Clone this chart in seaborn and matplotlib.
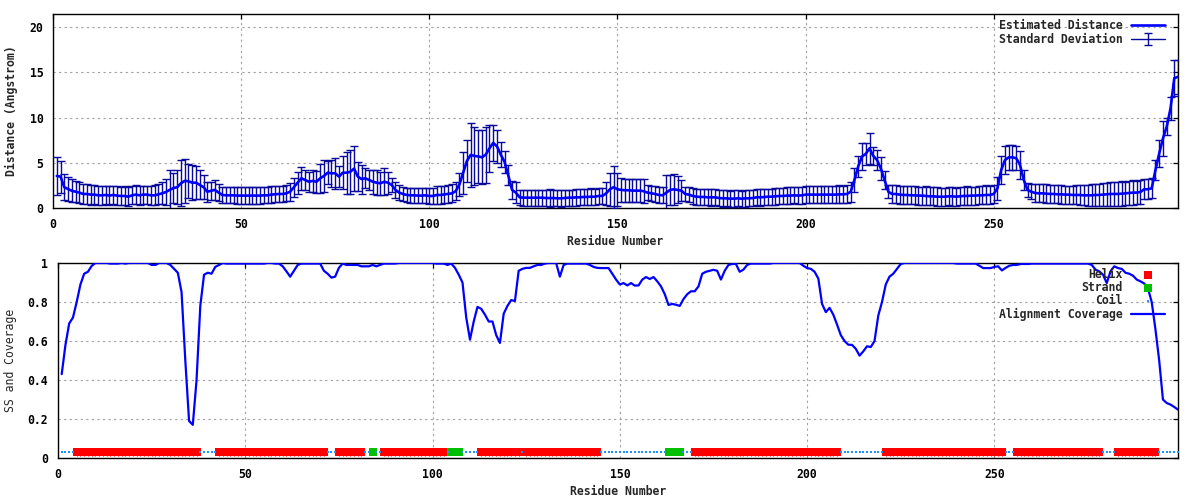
import pandas as pd
import seaborn as sns
import matplotlib.pyplot as plt

# Residue numbers of the model
residues = list(range(1, 300))

# Estimated distance per residue (Angstrom)
distance = [
    3.54, 3.47, 2.29, 2.10, 1.90, 1.80, 1.70, 1.55, 1.55, 1.48,
    1.48, 1.40, 1.40, 1.44, 1.37, 1.44, 1.37, 1.33, 1.33, 1.25,
    1.40, 1.48, 1.40, 1.48, 1.48, 1.40, 1.40, 1.51, 1.62, 1.77,
    2.00, 2.20, 2.30, 2.73, 3.00, 2.95, 2.80, 2.80, 2.55, 2.30,
    1.80, 1.90, 2.00, 1.70, 1.44, 1.40, 1.40, 1.40, 1.37, 1.37,
    1.37, 1.37, 1.37, 1.37, 1.37, 1.40, 1.40, 1.48, 1.51, 1.55,
    1.55, 1.62, 1.80, 2.29, 2.80, 3.28, 3.10, 2.90, 3.00, 2.90,
    3.28, 3.54, 3.90, 3.84, 3.84, 3.47, 3.90, 3.90, 4.00, 4.35,
    3.47, 3.20, 3.28, 3.10, 2.90, 2.80, 2.73, 2.90, 2.80, 2.55,
    2.00, 1.70, 1.55, 1.44, 1.40, 1.40, 1.37, 1.37, 1.40, 1.33,
    1.33, 1.44, 1.44, 1.50, 1.55, 1.62, 1.85, 2.60, 3.90, 5.20,
    5.87, 5.75, 5.70, 5.60, 5.90, 6.60, 7.20, 6.80, 5.90, 5.10,
    3.60, 2.00, 1.70, 1.18, 1.14, 1.14, 1.14, 1.14, 1.14, 1.14,
    1.10, 1.10, 1.10, 1.07, 1.07, 1.10, 1.14, 1.14, 1.18, 1.18,
    1.22, 1.22, 1.25, 1.25, 1.33, 1.33, 1.62, 2.07, 2.30, 2.07,
    2.00, 1.96, 1.96, 1.92, 1.92, 1.92, 1.85, 1.70, 1.62, 1.55,
    1.44, 1.40, 1.70, 2.00, 2.07, 2.00, 1.92, 1.55, 1.48, 1.33,
    1.25, 1.22, 1.22, 1.18, 1.18, 1.18, 1.10, 1.07, 1.07, 1.03,
    1.03, 1.07, 1.03, 1.07, 1.07, 1.10, 1.18, 1.18, 1.22, 1.25,
    1.25, 1.29, 1.33, 1.33, 1.37, 1.37, 1.40, 1.37, 1.40, 1.48,
    1.48, 1.48, 1.48, 1.48, 1.48, 1.48, 1.48, 1.48, 1.51, 1.51,
    1.55, 1.80, 3.10, 4.60, 5.68, 5.98, 6.60, 5.76, 5.30, 4.39,
    3.10, 1.80, 1.55, 1.55, 1.48, 1.44, 1.44, 1.40, 1.40, 1.37,
    1.37, 1.33, 1.29, 1.29, 1.25, 1.25, 1.25, 1.29, 1.29, 1.25,
    1.29, 1.33, 1.33, 1.37, 1.37, 1.40, 1.40, 1.44, 1.44, 1.55,
    2.18, 4.20, 5.30, 5.60, 5.60, 5.50, 4.76, 3.10, 2.00, 1.80,
    1.66, 1.62, 1.62, 1.58, 1.55, 1.55, 1.51, 1.51, 1.48, 1.48,
    1.44, 1.44, 1.44, 1.40, 1.40, 1.40, 1.44, 1.44, 1.48, 1.51,
    1.55, 1.55, 1.55, 1.58, 1.62, 1.66, 1.70, 1.70, 1.77, 2.07,
    2.07, 2.18, 4.20, 6.05, 7.70, 9.00, 11.0, 14.35, 14.5,
]

# Standard deviation per residue
std_dev = [
    2.06, 1.77, 1.44, 1.30, 1.25, 1.15, 1.15, 1.10, 1.10, 1.10,
    1.05, 1.05, 1.05, 1.00, 1.05, 1.00, 1.05, 1.00, 1.05, 1.05,
    1.00, 1.05, 1.05, 1.00, 1.00, 1.05, 1.10, 1.10, 1.20, 1.40,
    2.20, 1.70, 1.90, 2.55, 2.40, 1.90, 1.90, 1.85, 1.60, 1.30,
    1.10, 1.00, 1.10, 0.95, 0.90, 0.90, 0.90, 0.90, 0.90, 0.90,
    0.90, 0.90, 0.90, 0.90, 0.90, 0.90, 0.90, 0.95, 0.90, 0.90,
    0.90, 0.90, 1.00, 1.05, 1.20, 1.30, 1.10, 1.10, 1.20, 1.20,
    1.60, 1.80, 1.30, 1.50, 1.70, 1.20, 1.80, 2.30, 2.40, 2.50,
    1.60, 1.60, 1.10, 1.10, 1.30, 1.40, 1.30, 1.50, 1.20, 0.80,
    0.90, 0.80, 0.80, 0.80, 0.80, 0.80, 0.80, 0.80, 0.85, 0.92,
    0.92, 0.95, 0.95, 0.95, 1.00, 1.00, 1.00, 1.30, 2.30, 2.30,
    3.50, 3.20, 2.90, 3.00, 3.10, 2.60, 2.00, 1.80, 1.40, 1.20,
    1.10, 1.00, 1.20, 0.80, 0.90, 0.90, 0.90, 0.90, 0.90, 0.90,
    0.90, 0.95, 0.90, 0.90, 0.95, 0.90, 0.90, 0.90, 0.95, 0.90,
    0.90, 0.90, 0.95, 0.90, 0.90, 0.90, 1.30, 1.80, 2.30, 1.80,
    1.30, 1.30, 1.30, 1.30, 1.30, 1.30, 1.30, 0.80, 0.85, 0.85,
    0.90, 0.90, 2.00, 1.70, 1.70, 1.50, 1.20, 0.80, 0.85, 0.90,
    0.90, 0.90, 0.90, 0.90, 0.95, 0.90, 0.90, 0.95, 0.90, 0.90,
    0.95, 0.90, 0.90, 0.95, 0.90, 0.90, 0.90, 0.95, 0.90, 0.90,
    0.90, 0.95, 0.90, 0.90, 0.95, 0.90, 0.90, 0.95, 0.95, 0.95,
    0.95, 0.95, 0.95, 0.95, 0.95, 0.95, 0.95, 0.95, 1.00, 0.95,
    1.00, 1.10, 1.30, 1.20, 1.50, 1.20, 1.70, 1.00, 1.10, 1.30,
    1.00, 0.70, 1.00, 1.00, 1.00, 1.00, 1.00, 1.00, 1.00, 1.00,
    1.00, 1.05, 1.00, 1.00, 1.05, 1.00, 1.00, 1.00, 1.05, 1.00,
    1.00, 1.00, 1.05, 1.00, 1.00, 1.00, 1.00, 1.05, 1.00, 1.00,
    1.30, 1.50, 1.50, 1.40, 1.40, 1.30, 1.50, 1.10, 0.75, 0.85,
    1.00, 1.00, 1.00, 1.05, 1.00, 1.00, 1.00, 1.05, 1.00, 1.00,
    1.00, 1.05, 1.10, 1.10, 1.15, 1.20, 1.20, 1.25, 1.30, 1.30,
    1.30, 1.35, 1.30, 1.35, 1.30, 1.30, 1.35, 1.30, 1.30, 1.10,
    1.10, 1.10, 1.10, 1.50, 1.90, 0.90, 1.30, 2.00, 1.90,
]

# Alignment coverage per residue
coverage = [
    0.43, 0.58, 0.69, 0.72, 0.80, 0.89, 0.945, 0.955, 0.985, 1.0,
    1.0, 1.0, 1.0, 0.997, 0.997, 0.997, 1.0, 0.997, 1.0, 1.0,
    1.0, 1.0, 1.0, 1.0, 0.99, 0.99, 1.0, 1.0, 1.0, 0.99,
    0.97, 0.95, 0.85, 0.50, 0.19, 0.17, 0.40, 0.78, 0.94, 0.95,
    0.945, 0.98, 0.99, 1.0, 0.997, 0.997, 0.997, 0.997, 0.997, 0.997,
    0.997, 0.997, 0.997, 0.997, 0.997, 1.0, 1.0, 0.997, 0.997, 0.983,
    0.957, 0.93, 0.96, 0.99, 0.997, 0.997, 0.997, 0.997, 0.997, 0.997,
    0.96, 0.945, 0.925, 0.93, 0.975, 0.997, 0.99, 0.99, 0.99, 0.99,
    0.983, 0.983, 0.983, 0.99, 0.983, 0.99, 0.997, 0.997, 0.997, 0.997,
    1.0, 1.0, 1.0, 1.0, 1.0, 1.0, 1.0, 1.0, 1.0, 1.0,
    0.997, 0.997, 0.997, 0.99, 0.997, 0.975, 0.94, 0.90, 0.72, 0.607,
    0.70, 0.775, 0.765, 0.735, 0.70, 0.70, 0.63, 0.59, 0.74, 0.78,
    0.81, 0.805, 0.96, 0.97, 0.975, 0.975, 0.983, 0.99, 0.99, 0.997,
    1.0, 1.0, 1.0, 0.93, 0.99, 0.997, 0.997, 0.997, 0.997, 0.997,
    0.997, 0.99, 0.98, 0.975, 0.974, 0.974, 0.974, 0.945, 0.915, 0.89,
    0.897, 0.885, 0.897, 0.884, 0.885, 0.915, 0.928, 0.918, 0.928, 0.906,
    0.88, 0.84, 0.785, 0.79, 0.786, 0.78, 0.815, 0.84, 0.855, 0.855,
    0.88, 0.945, 0.955, 0.96, 0.965, 0.96, 0.915, 0.96, 0.99, 0.995,
    0.995, 0.955, 0.966, 0.99, 0.997, 0.997, 0.997, 0.997, 0.997, 0.997,
    1.0, 1.0, 1.0, 1.0, 1.0, 1.0, 1.0, 1.0, 0.986, 0.974,
    0.97, 0.955, 0.92, 0.79, 0.748, 0.77, 0.735, 0.684, 0.63, 0.60,
    0.581, 0.58, 0.56, 0.525, 0.547, 0.573, 0.569, 0.60, 0.73, 0.80,
    0.89, 0.93, 0.945, 0.97, 0.995, 1.0, 1.0, 1.0, 1.0, 1.0,
    1.0, 1.0, 1.0, 1.0, 1.0, 1.0, 1.0, 1.0, 1.0, 0.997,
    0.997, 0.997, 0.997, 0.997, 0.997, 0.986, 0.974, 0.974, 0.974, 0.98,
    0.983, 0.962, 0.975, 0.986, 0.99, 0.99, 0.995, 0.995, 0.995, 0.997,
    0.997, 0.997, 0.997, 0.997, 0.997, 0.997, 0.997, 0.997, 0.997, 0.997,
    0.997, 0.997, 0.997, 0.997, 0.997, 0.99, 0.966, 0.957, 0.94, 0.897,
    0.957, 0.983, 0.974, 0.97, 0.95, 0.945, 0.935, 0.915, 0.906, 0.895,
    0.87, 0.80, 0.66, 0.50, 0.30, 0.282, 0.274, 0.262, 0.248,
]

# Secondary structure as runs: H = helix, E = strand, C = coil
ss_runs = [
    ("C", 4), ("H", 33), ("C", 5), ("H", 29), ("C", 3), ("H", 7),
    ("C", 2), ("E", 1), ("C", 2), ("H", 17), ("C", 1), ("E", 3),
    ("C", 5), ("H", 11), ("C", 1), ("H", 20), ("C", 18), ("E", 4),
    ("C", 3), ("H", 39), ("C", 12), ("H", 32), ("C", 3), ("H", 23),
    ("C", 4), ("H", 11), ("C", 6),
]
ss = "".join(code * n for code, n in ss_runs)

df = pd.DataFrame({
    "Residue": residues,
    "Distance": distance,
    "SD": std_dev,
    "Coverage": coverage,
    "SS": list(ss),
})

# level at which the SS track is drawn
SS_LEVEL = 0.03
FS = 8.3

sns.set_theme(style="white")
plt.rcParams["font.family"] = ["DejaVu Sans Mono"]
plt.rcParams["font.size"] = FS
plt.rcParams["font.weight"] = "bold"

fig = plt.figure(figsize=(12, 5), dpi=100)
ax1 = fig.add_axes([0.0442, 0.584, 0.9375, 0.388])
ax2 = fig.add_axes([0.0483, 0.084, 0.9333, 0.390])

grid_kw = dict(color="#a0a0a0", linestyle=(0, (2, 3)), linewidth=0.8)

# ---- top panel: distance with error bars ----
sns.lineplot(data=df, x="Residue", y="Distance", color="#0000ff", lw=1.9,
             label="Estimated Distance", ax=ax1, zorder=4)
ax1.errorbar(df["Residue"], df["Distance"], yerr=df["SD"], fmt="-",
             color="#0a0a9a", lw=1.0, elinewidth=1.0, capsize=2.6,
             capthick=1.0, label="Standard Deviation", zorder=3)
ax1.set_xlim(0, 299)
ax1.set_ylim(0, 21.44)
ax1.set_yticks([0, 5, 10, 15, 20])
ax1.set_xticks([0, 50, 100, 150, 200, 250])
ax1.set_xlabel("Residue Number", fontweight="bold", fontsize=FS, labelpad=3)
ax1.set_ylabel("Distance (Angstrom)", fontweight="bold", fontsize=FS, labelpad=8)
ax1.legend(loc="upper right", bbox_to_anchor=(0.9884, 0.972), frameon=False,
           markerfirst=False, handlelength=2.95, handletextpad=0.7,
           labelspacing=0.05, borderpad=0, borderaxespad=0,
           prop={"weight": "bold", "size": FS})

# ---- bottom panel: secondary structure and coverage ----
helix = df[df["SS"] == "H"]
strand = df[df["SS"] == "E"]
coil = df[df["SS"] == "C"]
sns.scatterplot(x=helix["Residue"], y=[SS_LEVEL] * len(helix), marker="s",
                s=26, color="#ff0000", linewidth=0, label="Helix", ax=ax2, zorder=3)
sns.scatterplot(x=strand["Residue"], y=[SS_LEVEL] * len(strand), marker="s",
                s=26, color="#00c000", linewidth=0, label="Strand", ax=ax2, zorder=3)
sns.scatterplot(x=coil["Residue"], y=[SS_LEVEL] * len(coil), marker="s",
                s=0.9, color="#1e90ff", linewidth=0, label="Coil", ax=ax2, zorder=3)
sns.scatterplot(x=helix["Residue"], y=[SS_LEVEL] * len(helix), marker="|",
                s=38, color="#ff0000", linewidth=0.9, ax=ax2, zorder=3)
sns.lineplot(data=df, x="Residue", y="Coverage", color="#0000ff", lw=1.6,
             label="Alignment Coverage", ax=ax2, zorder=4)
ax2.set_xlim(0, 299)
ax2.set_ylim(0, 1)
ax2.set_yticks([0, 0.2, 0.4, 0.6, 0.8, 1])
ax2.set_yticklabels(["0", "0.2", "0.4", "0.6", "0.8", "1"])
ax2.set_xticks([0, 50, 100, 150, 200, 250])
ax2.set_xlabel("Residue Number", fontweight="bold", fontsize=FS, labelpad=3)
ax2.set_ylabel("SS and Coverage", fontweight="normal", fontsize=FS, labelpad=8)
ax2.legend(loc="upper right", bbox_to_anchor=(0.9884, 0.972), frameon=False,
           markerfirst=False, handlelength=2.95, handletextpad=0.7,
           labelspacing=0.0, borderpad=0, borderaxespad=0, scatterpoints=1,
           prop={"weight": "bold", "size": FS})

for ax in (ax1, ax2):
    ax.grid(True, **grid_kw)
    ax.set_axisbelow(True)
    for sp in ax.spines.values():
        sp.set_color("black")
        sp.set_linewidth(1.0)
    ax.tick_params(direction="in", length=3.5, width=0.9, top=True, right=True,
                   labelsize=FS, pad=7, colors="black")
    for lab in ax.get_xticklabels() + ax.get_yticklabels():
        lab.set_fontweight("bold")

fig.savefig("out.png", dpi=100)
